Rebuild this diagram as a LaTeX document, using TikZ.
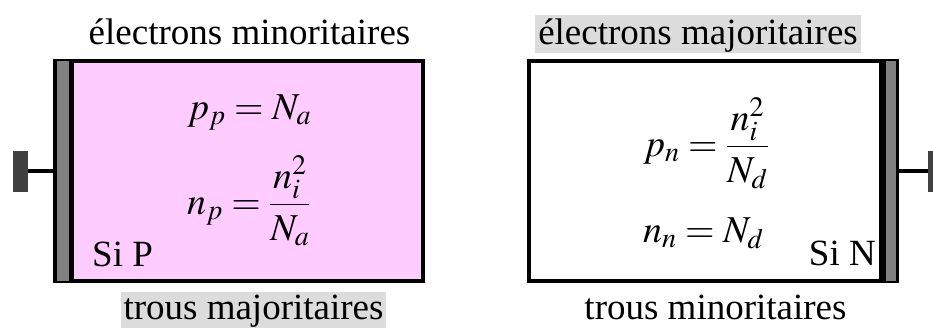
\documentclass[tikz,border=0pt]{standalone}
\usepackage{amsmath}
\usepackage{mathptmx}
\usepackage[no-math]{fontspec}
\setmainfont{Liberation Serif}
\definecolor{pinkfill}{HTML}{FFCCFF}
\definecolor{stripgray}{HTML}{808080}
\definecolor{padgray}{HTML}{404040}
\definecolor{marklight}{HTML}{DCDCDC}
\tikzset{
  crystal/.style={draw=black,line width=4pt,minimum width=368pt,minimum height=220pt,inner sep=0pt},
  pad/.style={fill=padgray,minimum width=15pt,minimum height=41pt,inner sep=0pt},
  lead/.style={line width=4pt},
  caption/.style={font=\fontsize{37}{40}\selectfont,inner sep=0pt},
  marked/.style={caption,fill=marklight,inner xsep=3pt,text depth=9pt},
  eq/.style={font=\fontsize{38}{42}\selectfont,inner sep=0pt}
}
\begin{document}
\begin{tikzpicture}[x=1pt,y=-1pt]
            \useasboundingbox (0,0) rectangle (933,327);
            % Si P side
            \node[crystal,fill=pinkfill] (sip) at (239,171) {};
            \fill[stripgray] (57,61) rectangle (69,281);
            \draw[line width=5pt] (71,61) -- (71,281);
            \node[pad] (padp) at (20.5,171) {};
            \draw[lead] (padp.east) -- (sip.west);
            % Si N side
            \node[crystal,fill=white] (sin) at (712.5,171) {};
            \fill[stripgray] (886,61) rectangle (896,281);
            \draw[line width=7pt] (882,61) -- (882,281);
            \node[pad] (padn) at (935.5,171) {};
            \draw[lead] (sin.east) -- (padn.west);
            % equations
            \node[eq,anchor=base west] (ppeq) at (187,119) {$p_p = N_a$};
            \node[eq,anchor=base west] (npeq) at (187,214) {$n_p = \dfrac{n_i^2}{N_a}$};
            \node[eq,anchor=base west] (pneq) at (643,156) {$p_n = \dfrac{n_i^2}{N_d}$};
            \node[eq,anchor=base west] (nneq) at (643,242) {$n_n = N_d$};
            \node[caption,anchor=base west] (sipl) at (92,266) {Si P};
            \node[caption,anchor=base east] (sinl) at (876,265) {Si N};
            % captions
            \node[caption,anchor=base] (elmin) at (249.5,44) {électrons minoritaires};
            \node[marked,anchor=base,text height=29pt] (elmaj) at (698,44) {électrons majoritaires};
            \node[marked,anchor=base,text height=27pt] (trmaj) at (253.5,319) {trous majoritaires};
            \node[caption,anchor=base] (trmin) at (715.5,319) {trous minoritaires};
\end{tikzpicture}
\end{document}
